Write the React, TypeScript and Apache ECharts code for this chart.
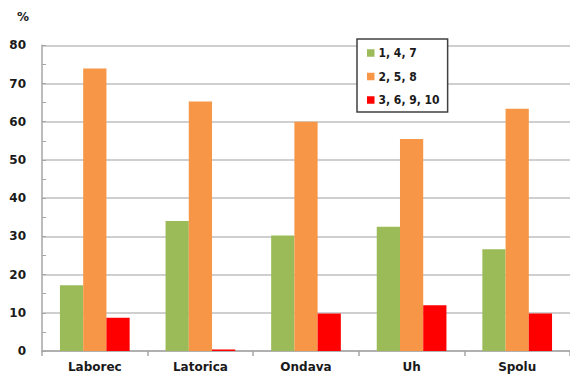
import React, { useEffect, useRef } from "react";
import * as echarts from "echarts";

const categories = ["Laborec", "Latorica", "Ondava", "Uh", "Spolu"];
const seriesNames = ["1, 4, 7", "2, 5, 8", "3, 6, 9, 10"];
const green = [17.2, 34.0, 30.2, 32.5, 26.6];
const orange = [73.9, 65.3, 60.0, 55.5, 63.4];
const red = [8.7, 0.4, 9.8, 12.0, 9.8];
const colors = ["#9BBB59", "#F79646", "#FF0000"];

export default function App() {
  const ref = useRef<HTMLDivElement>(null);
  useEffect(() => {
    if (!ref.current) return;
    const chart = echarts.init(ref.current, null, { renderer: "svg" });
    const font = "DejaVu Sans";
    const data = [green, orange, red];
    chart.setOption({
      animation: false,
      backgroundColor: "#ffffff",
      title: {
        text: "%",
        left: 12,
        top: 6,
        textStyle: { fontFamily: font, fontSize: 12, fontWeight: "bold", color: "#1a1a1a" },
      },
      grid: { left: 42, top: 45.3, bottom: 23, right: -5, containLabel: false },
      legend: {
        orient: "vertical",
        left: 357,
        top: 39,
        data: seriesNames,
        itemWidth: 7.5,
        itemHeight: 7.5,
        itemGap: 11.5,
        icon: "rect",
        padding: [8, 8, 6, 10],
        borderColor: "#404040",
        borderWidth: 1.5,
        backgroundColor: "#ffffff",
        textStyle: {
          fontFamily: "DejaVu Sans Condensed, DejaVu Sans",
          fontSize: 12,
          fontWeight: "bold",
          color: "#1a1a1a",
          padding: [0, 0, 0, -1],
        },
      },
      xAxis: {
        type: "category",
        data: categories,
        axisLine: { lineStyle: { color: "#a6a6a6", width: 1.5 } },
        axisTick: { show: true, length: 5, lineStyle: { color: "#a6a6a6", width: 1.5 } },
        axisLabel: { fontFamily: font, fontSize: 12, fontWeight: "bold", color: "#1a1a1a", margin: 10 },
      },
      yAxis: {
        type: "value",
        min: 0,
        max: 80,
        interval: 10,
        axisLine: { show: true, lineStyle: { color: "#a6a6a6", width: 1.5 } },
        axisTick: { show: true, inside: true, length: 4, lineStyle: { color: "#a6a6a6" } },
        minorTick: { show: true, splitNumber: 2, length: 4, lineStyle: { color: "#a6a6a6" } },
        splitLine: { lineStyle: { color: "#bfbfbf", width: 1.5 } },
        axisLabel: { fontFamily: font, fontSize: 12, fontWeight: "bold", color: "#1a1a1a", margin: 16 },
      },
      series: seriesNames.map((name, i) => ({
        name,
        type: "bar",
        data: data[i],
        barGap: "0%",
        barCategoryGap: "34%",
        itemStyle: { color: colors[i] },
      })),
    });
    return () => chart.dispose();
  }, []);
  return <div ref={ref} style={{ position: "fixed", left: 0, top: 0, width: 570, height: 374 }} />;
}
